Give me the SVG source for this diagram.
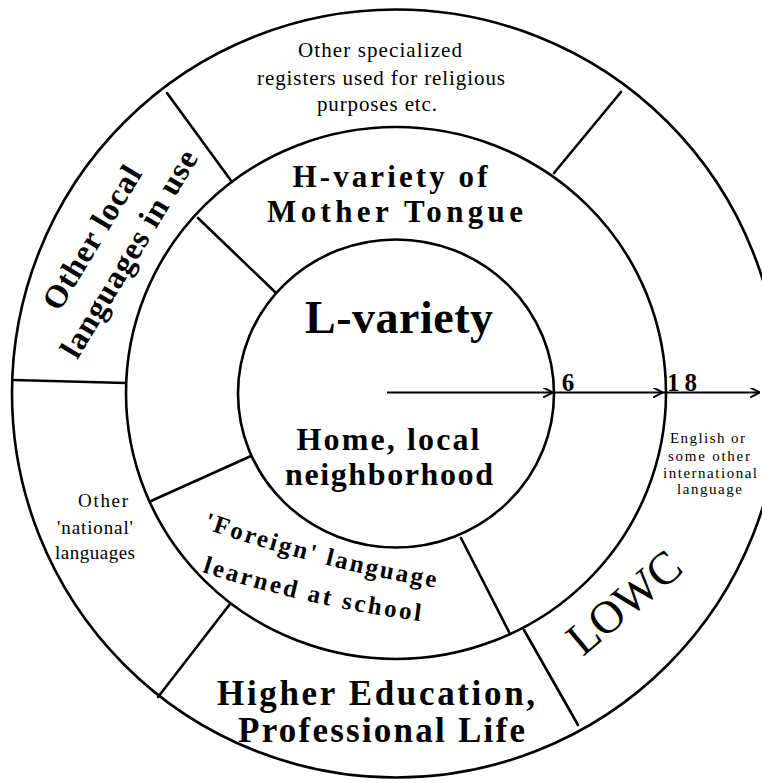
<svg xmlns="http://www.w3.org/2000/svg" width="762" height="783" viewBox="0 0 762 783">
<defs>
<style>
.ring{fill:none;stroke:#000;stroke-width:2.6}
.div{fill:none;stroke:#000;stroke-width:2.6;stroke-linecap:round}
.t{font-family:"Liberation Serif","DejaVu Serif",serif;fill:#000;text-anchor:middle}
.b{font-weight:bold}
.arrow{fill:none;stroke:#000;stroke-width:2}
</style>
<marker id="ah" viewBox="0 0 10 10" refX="10" refY="5" markerWidth="10" markerHeight="10" markerUnits="userSpaceOnUse" orient="auto">
<path d="M0,0 L10,5 L0,10" fill="none" stroke="#000" stroke-width="2"/>
</marker>
<path id="fp1" d="M203,528 Q327,571 445,589"/>
<path id="fp2" d="M202,572 Q318,609 428,622"/>
</defs>
<rect width="762" height="783" fill="#fff"/>
<g id="rings">
<ellipse class="ring" cx="396" cy="393.5" rx="384" ry="384"/>
<ellipse class="ring" cx="396" cy="393" rx="270" ry="266"/>
<ellipse class="ring" cx="396" cy="393.5" rx="158" ry="154"/>
</g>
<g id="dividers">
<line class="div" x1="275" y1="292" x2="198" y2="218"/>
<line class="div" x1="251" y1="456" x2="151" y2="501"/>
<line class="div" x1="461" y1="538" x2="509" y2="632"/>
<line class="div" x1="232" y1="182" x2="167" y2="93"/>
<line class="div" x1="554" y1="173" x2="621" y2="92"/>
<line class="div" x1="126" y1="383" x2="13" y2="380"/>
<line class="div" x1="230" y1="604" x2="158" y2="697"/>
<line class="div" x1="524" y1="630" x2="578" y2="725"/>
</g>
<g id="connectors">
<polyline class="arrow" points="387,392.5 553,392.5 663,392.5 760,392.5" marker-mid="url(#ah)" marker-end="url(#ah)"/>
</g>
<g id="node-religious">
<text class="t" x="380" y="57" font-size="21" textLength="164">Other specialized</text>
<text class="t" x="381" y="85" font-size="21" textLength="248">registers used for religious</text>
<text class="t" x="377" y="111" font-size="21" textLength="120">purposes etc.</text>
</g>
<g id="node-hvariety">
<text class="t b" x="390" y="187" font-size="31" textLength="195">H-variety of</text>
<text class="t b" x="395" y="222" font-size="31" textLength="256">Mother Tongue</text>
</g>
<g id="node-lvariety">
<text class="t b" x="399" y="333" font-size="46" textLength="188">L-variety</text>
<text class="t b" x="388" y="450" font-size="32" textLength="183">Home, local</text>
<text class="t b" x="389" y="485" font-size="32" textLength="208">neighborhood</text>
</g>
<g id="node-foreign">
<text class="t b" font-size="25" style="text-anchor:start;letter-spacing:2.4px"><textPath href="#fp1">'Foreign' language</textPath></text>
<text class="t b" font-size="25" style="text-anchor:start;letter-spacing:2.7px"><textPath href="#fp2">learned at school</textPath></text>
</g>
<g id="node-higher">
<text class="t b" x="376" y="705" font-size="35" textLength="318">Higher Education,</text>
<text class="t b" x="381.5" y="742" font-size="35" textLength="287">Professional Life</text>
</g>
<g id="node-otherlocal">
<text class="t b" font-size="32" textLength="162" transform="translate(101,243) rotate(-59)">Other local</text>
<text class="t b" font-size="32" textLength="236" transform="translate(138,259) rotate(-59)">languages in use</text>
</g>
<g id="node-national">
<text class="t" x="103" y="507" font-size="19" textLength="50">Other</text>
<text class="t" x="95" y="534" font-size="19" textLength="76">'national'</text>
<text class="t" x="95" y="559" font-size="19" textLength="80">languages</text>
</g>
<g id="node-lowc">
<text class="t" font-size="46" textLength="134" transform="translate(634,614) rotate(-40)">LOWC</text>
</g>
<g id="node-english">
<text class="t" x="707.5" y="443" font-size="15" textLength="75">English or</text>
<text class="t" x="709" y="461" font-size="15" textLength="82">some other</text>
<text class="t" x="710" y="478" font-size="15" textLength="94">international</text>
<text class="t" x="709.5" y="494" font-size="15" textLength="65">language</text>
</g>
<g id="ages">
<text class="t b" x="568" y="391" font-size="25">6</text>
<text class="t b" x="682" y="391" font-size="25" textLength="30">18</text>
</g>
</svg>
